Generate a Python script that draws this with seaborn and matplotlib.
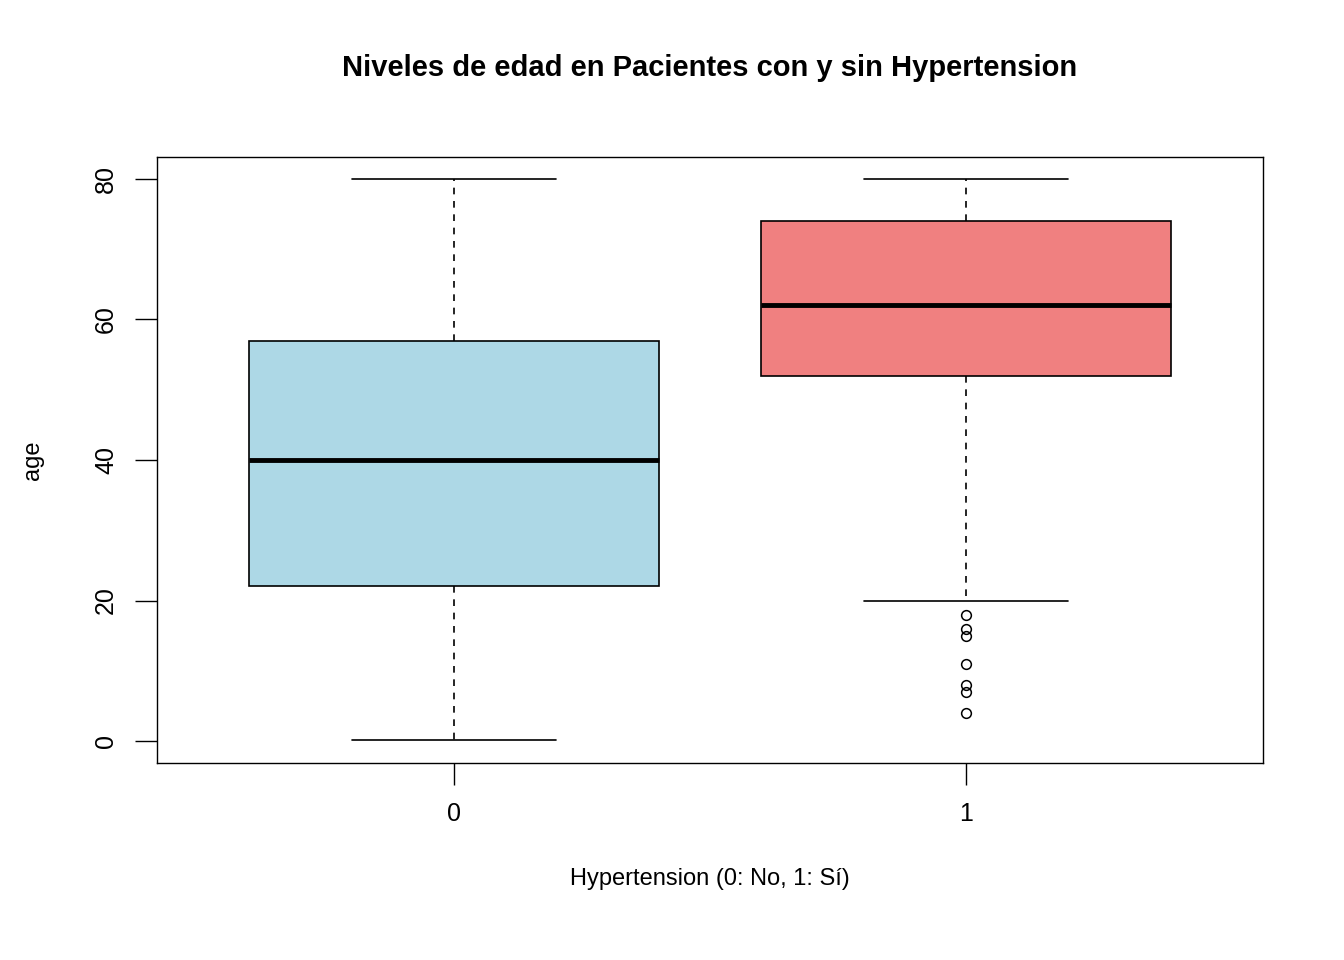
import numpy as np
import pandas as pd
import matplotlib
matplotlib.use("Agg")
import matplotlib.pyplot as plt
import seaborn as sns

# Valores (cuartiles, bigotes y atipicos)
edad_sin_hta = [0.08, 22, 40, 57, 80]
edad_con_hta = ([4, 7, 8, 11, 15, 16, 18, 20] + [52] * 11 + [62] * 10
                + [74] * 10 + [80])
grupos = ["0", "1"]
colores = ["#ADD8E6", "#F08080"]

df = pd.DataFrame({
    "hypertension": [grupos[0]] * len(edad_sin_hta) + [grupos[1]] * len(edad_con_hta),
    "age": edad_sin_hta + edad_con_hta,
})

sns.set_style("white")
plt.rcParams['font.family'] = ['Liberation Sans', 'DejaVu Sans']
plt.rcParams['text.color'] = 'black'
plt.rcParams['axes.labelcolor'] = 'black'
plt.rcParams['xtick.color'] = 'black'
plt.rcParams['ytick.color'] = 'black'

fig = plt.figure(figsize=(13.44, 9.6), dpi=100)
ax = fig.add_axes([0.1168, 0.2052, 0.8229, 0.6313])

sns.boxplot(data=df, x="hypertension", y="age", hue="hypertension",
            palette=colores, order=grupos, width=0.8, whis=1.5, legend=False,
            saturation=1, linecolor="black", linewidth=1.2, ax=ax,
            whiskerprops=dict(linestyle=(0, (4, 4))),
            medianprops=dict(linewidth=3.5, color="black"),
            flierprops=dict(marker="o", markersize=7, markerfacecolor="none",
                            markeredgecolor="black", markeredgewidth=1.1))

# caps a la mitad del ancho de caja, como en R
for ln in ax.lines:
    x = np.asarray(ln.get_xdata(), dtype=float)
    y = np.asarray(ln.get_ydata(), dtype=float)
    if len(x) == 2 and y[0] == y[1] and x[0] != x[1] and y[0] in (0.08, 80, 20):
        c = x.mean()
        ln.set_xdata([c - 0.2, c + 0.2])

ax.set_xlim(-0.58, 1.58)
ax.set_ylim(-3.13, 83.13)
ax.set_yticks([0, 20, 40, 60, 80])
ax.tick_params(axis="both", labelsize=18, length=16, width=1, color="black",
               direction="out", left=True, bottom=True, pad=12)
for lbl in ax.get_yticklabels():
    lbl.set_rotation(90)
    lbl.set_va("center")
for s in ax.spines.values():
    s.set_color("black")
    s.set_linewidth(1)

ax.set_xlabel("Hypertension (0: No, 1: Sí)", fontsize=17, labelpad=30)
ax.set_ylabel("age", fontsize=17, labelpad=36)
ax.set_title("Niveles de edad en Pacientes con y sin Hypertension",
             fontsize=21, fontweight="bold", pad=58)

fig.savefig("out.png", dpi=100)
